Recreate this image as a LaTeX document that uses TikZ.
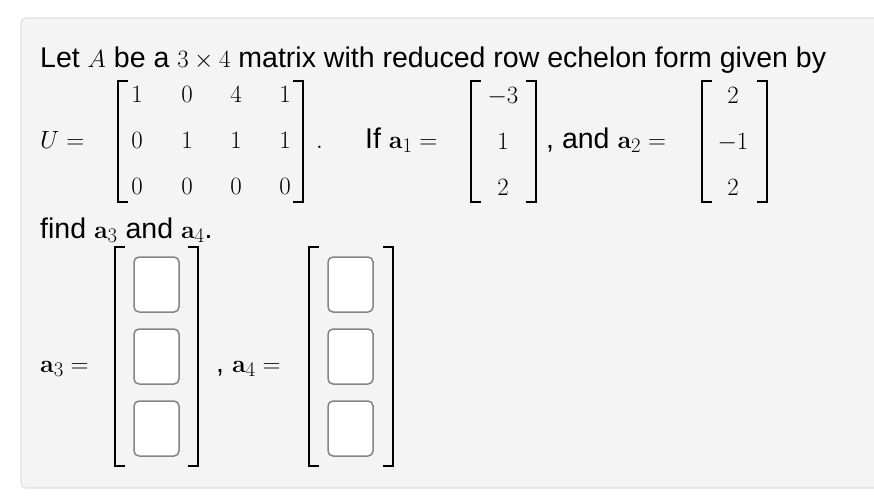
\documentclass[tikz,border=0pt]{standalone}
\usepackage{amsmath}
\usepackage[no-math]{fontspec}
\setmainfont{Liberation Sans}
\tikzset{
  txt/.style={anchor=base west,inner sep=0pt,font=\fontsize{28.5}{34}\selectfont},
  ent/.style={anchor=base,inner sep=0pt,font=\fontsize{28}{34}\selectfont},
  brk/.style={line width=2.4pt,line cap=rect},
  ansbox/.style={draw=black!48,line width=1.5pt,fill=white,rounded corners=5pt}
}
\newcommand{\mybrk}[4]{%
  \draw[brk] (#1+9,#3) -- (#1,#3) -- (#1,#4) -- (#1+9,#4);
  \draw[brk] (#2-9,#3) -- (#2,#3) -- (#2,#4) -- (#2-9,#4);}
\begin{document}
\begin{tikzpicture}[x=1pt,y=-1pt]
\useasboundingbox (0,0) rectangle (874,498);
\fill[white] (0,0) rectangle (874,498);
\draw[draw=black!12,fill=black!4.5,line width=1.2pt,rounded corners=5pt] (21,18) rectangle (890,488);
\node[txt] (l1) at (40,67) {Let $A$ be a $3\times 4$ matrix with reduced row echelon form given by};
\node[txt] (U) at (40,148) {$U=$};
\mybrk{118}{303}{81}{202}
\node[ent] (u11) at (137,102) {$1$}; \node[ent] (u12) at (187,102) {$0$}; \node[ent] (u13) at (236,102) {$4$}; \node[ent] (u14) at (285,102) {$1$};
\node[ent] (u21) at (137,148) {$0$}; \node[ent] (u22) at (187,148) {$1$}; \node[ent] (u23) at (236,148) {$1$}; \node[ent] (u24) at (285,148) {$1$};
\node[ent] (u31) at (137,194) {$0$}; \node[ent] (u32) at (187,194) {$0$}; \node[ent] (u33) at (236,194) {$0$}; \node[ent] (u34) at (285,194) {$0$};
\node[txt] (dot) at (316,148) {$.$};
\node[txt] (if) at (365,148) {If $\mathbf{a}_1=$};
\mybrk{471}{536}{81}{202}
\node[ent] (a11) at (503,103) {$-3$};
\node[ent] (a12) at (503,149) {$1$};
\node[ent] (a13) at (503,195) {$2$};
\node[txt] (and) at (546,148) {, and $\mathbf{a}_2=$};
\mybrk{702}{767}{81}{202}
\node[ent] (a21) at (733,103) {$2$};
\node[ent] (a22) at (733,149) {$-1$};
\node[ent] (a23) at (733,195) {$2$};
\node[txt] (find) at (40,238) {find $\mathbf{a}_3$ and $\mathbf{a}_4$.};
\node[txt] (a3) at (40,372) {$\mathbf{a}_3=$};
\mybrk{115}{198}{247}{466}
\foreach \y in {257,329,401}{\draw[ansbox] (134,\y) rectangle (179,\y+55);}
\node[txt] (a4) at (216,372) {, $\mathbf{a}_4=$};
\mybrk{309}{393}{247}{466}
\foreach \y in {257,329,401}{\draw[ansbox] (328,\y) rectangle (373,\y+55);}
\end{tikzpicture}
\end{document}
